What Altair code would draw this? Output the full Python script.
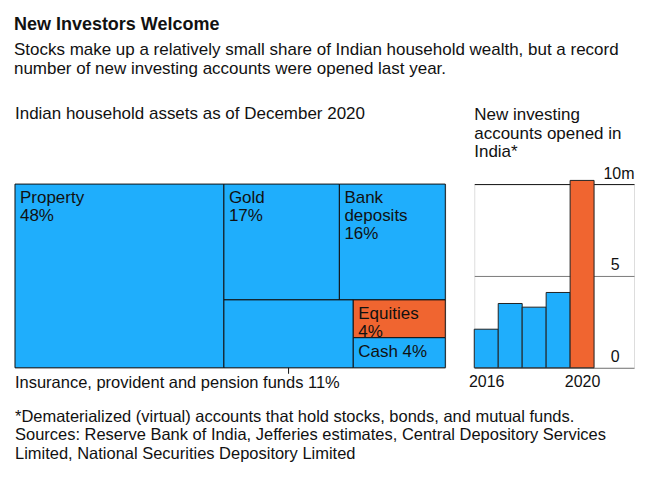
import altair as alt
import pandas as pd

# ---------------- data ----------------
asset_names = ["Property", "Gold", "Bank deposits",
               "Insurance, provident and pension funds", "Equities", "Cash"]
asset_labels = ["Property\n48%", "Gold\n17%", "Bank\ndeposits\n16%", "", "Equities\n4%", "Cash 4%"]
asset_shares = [48.5, 16.9, 15.5, 11.1, 4.4, 3.5]
asset_highlight = [False, False, False, False, True, False]

years = [2016, 2017, 2018, 2019, 2020]
accounts_m = [2.1, 3.5, 3.3, 4.1, 10.2]
year_ticks = [2016, 2020]
account_ticks = [0, 5, 10]

BLUE = "#1faefc"
ORANGE = "#f06530"
FONT = "Liberation Sans"

TW, TH = 431, 184   # treemap panel
BW, BH = 160, 184   # bar panel


# ---------------- treemap layout (binary split, alternating direction) ----------------
def binary_layout(idx, x0, y0, x1, y1, split_x, out):
    if len(idx) == 1:
        out[idx[0]] = (x0, y0, x1, y1)
        return
    vals = [asset_shares[i] for i in idx]
    total = sum(vals)
    best_k, best_d = 1, None
    for k in range(1, len(vals)):
        d = abs(sum(vals[:k]) - total / 2)
        if best_d is None or d < best_d:
            best_k, best_d = k, d
    frac = sum(vals[:best_k]) / total
    if split_x:
        xm = x0 + (x1 - x0) * frac
        binary_layout(idx[:best_k], x0, y0, xm, y1, not split_x, out)
        binary_layout(idx[best_k:], xm, y0, x1, y1, not split_x, out)
    else:
        ym = y0 + (y1 - y0) * frac
        binary_layout(idx[:best_k], x0, y0, x1, ym, not split_x, out)
        binary_layout(idx[best_k:], x0, ym, x1, y1, not split_x, out)


cells = {}
binary_layout(list(range(len(asset_shares))), 0.0, 0.0, 1.0, 1.0, True, cells)

tree_df = pd.DataFrame({
    "name": asset_names,
    "label": asset_labels,
    "share": asset_shares,
    "hl": asset_highlight,
    "x0": [cells[i][0] for i in range(len(asset_names))],
    "y0": [cells[i][1] for i in range(len(asset_names))],
    "x1": [cells[i][2] for i in range(len(asset_names))],
    "y1": [cells[i][3] for i in range(len(asset_names))],
})
tree_df["xc"] = (tree_df["x0"] + tree_df["x1"]) / 2
tree_df["outside"] = tree_df["label"] == ""
tree_df["outlabel"] = tree_df["name"] + " " + tree_df["share"].round().astype(int).astype(str) + "%"

xs = alt.Scale(domain=[0, 1], nice=False, zero=False)
ys = alt.Scale(domain=[0, 1], nice=False, zero=False, reverse=True)

base_t = alt.Chart(tree_df)
rects = base_t.mark_rect(stroke="#111", strokeWidth=1).encode(
    x=alt.X("x0:Q", scale=xs, axis=None),
    x2="x1:Q",
    y=alt.Y("y0:Q", scale=ys, axis=None),
    y2="y1:Q",
    color=alt.condition("datum.hl", alt.value(ORANGE), alt.value(BLUE)),
)
inlabels = base_t.mark_text(
    align="left", baseline="top", dx=5, dy=6, fontSize=17, lineHeight=18,
    lineBreak="\n", font=FONT, color="#111"
).encode(x="x0:Q", y="y0:Q", text="label:N")

out_df = tree_df[tree_df["outside"]]
out_tick = alt.Chart(out_df).mark_rule(color="#111", strokeWidth=1).encode(
    x="xc:Q", y="y1:Q", y2=alt.value(TH + 6)
)
out_label = alt.Chart(out_df).mark_text(
    align="left", baseline="top", fontSize=16.5, font=FONT, color="#111", dy=7
).encode(x=alt.value(0), y="y1:Q", text="outlabel:N")

footnote_lines = [
    "*Dematerialized (virtual) accounts that hold stocks, bonds, and mutual funds.",
    "Sources: Reserve Bank of India, Jefferies estimates, Central Depository Services",
    "Limited, National Securities Depository Limited",
]
foot_df = pd.DataFrame({"t": ["\n".join(footnote_lines)]})
footnote = alt.Chart(foot_df).mark_text(
    align="left", baseline="top", fontSize=16.5, font=FONT, color="#111",
    lineHeight=18.5, lineBreak="\n"
).encode(x=alt.value(0), y=alt.value(TH + 41), text="t:N")

treemap = alt.layer(rects, inlabels, out_tick, out_label, footnote).properties(
    width=TW, height=TH,
    title=alt.TitleParams(
        "Indian household assets as of December 2020", anchor="start", frame="group",
        fontSize=17, fontWeight="normal", font=FONT, color="#111",
        baseline="bottom", offset=44,
    ),
)

# ---------------- bars ----------------
bar_df = pd.DataFrame({"year": years, "accounts": accounts_m})
bar_df["start"] = bar_df["year"] - 0.5
bar_df["end"] = bar_df["year"] + 0.5

bars = alt.Chart(bar_df).mark_rect(stroke="#222", strokeWidth=1).encode(
    x=alt.X("start:Q",
            scale=alt.Scale(domain=[2015.5, 2015.5 + BW / 24.0], nice=False, zero=False),
            axis=alt.Axis(values=year_ticks, format="d", title=None, ticks=False, domain=False,
                          grid=False, labelFontSize=16, labelFont=FONT, labelColor="#111",
                          labelPadding=6, labelFlush=False, labelBaseline="top")),
    x2="end:Q",
    y=alt.Y("accounts:Q",
            scale=alt.Scale(domain=[0, 10], nice=False, zero=True),
            axis=alt.Axis(values=account_ticks, orient="right", title=None, ticks=False,
                          domain=False, labelFontSize=16, labelFont=FONT, labelColor="#111",
                          labelAlign="right", labelBaseline="alphabetic", labelOffset=-6,
                          labelFlush=False,
                          labelPadding={"condition": {"test": "datum.value === 10", "value": 0},
                                        "value": -15},
                          labelExpr="datum.value === 10 ? '10m' : datum.label",
                          grid=True, gridWidth=1,
                          gridColor={"condition": {"test": "datum.value === 10", "value": "#111"},
                                     "value": "#7a7a7a"})),
    y2=alt.datum(0),
    color=alt.condition("datum.year === 2020", alt.value(ORANGE), alt.value(BLUE)),
).properties(
    width=BW, height=BH,
    title=alt.TitleParams(
        ["New investing", "accounts opened in", "India*"], anchor="start", frame="group",
        fontSize=17, fontWeight="normal", font=FONT, color="#111", lineHeight=18.5,
        baseline="bottom", offset=-13,
    ),
)

chart = alt.hconcat(treemap, bars, spacing=29, bounds="flush").properties(
    title=alt.TitleParams(
        "New Investors Welcome",
        subtitle=["Stocks make up a relatively small share of Indian household wealth, but a record",
                  "number of new investing accounts were opened last year."],
        anchor="start", fontSize=18, fontWeight="bold", font=FONT, color="#111",
        subtitleFontSize=17, subtitleFont=FONT, subtitleColor="#111",
        subtitleLineHeight=19, subtitlePadding=8, baseline="top", offset=27,
    ),
    padding={"left": 6, "top": 8, "right": 5, "bottom": 5},
).configure_view(stroke=None).configure(background="white")

chart.save("out.html", embed_options={"renderer": "svg", "actions": False})
